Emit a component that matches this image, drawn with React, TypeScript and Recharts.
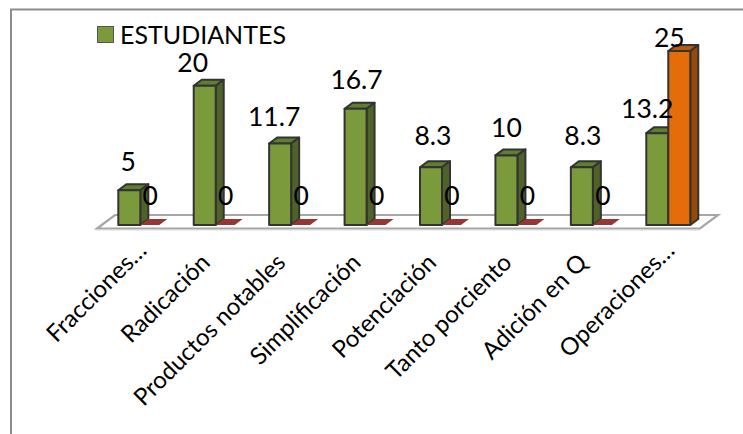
import React from "react";
import { BarChart, Bar, XAxis, YAxis, Legend, LabelList } from "recharts";

const categories = ["Fracciones…", "Radicación", "Productos notables", "Simplificación", "Potenciación", "Tanto porciento", "Adición en Q", "Operaciones…"];
const estudiantes = [5, 20, 11.7, 16.7, 8.3, 10, 8.3, 13.2];
const docentes = [0, 0, 0, 0, 0, 0, 0, 25];
const data = categories.map((c, i) => ({ c, estudiantes: estudiantes[i], docentes: docentes[i] }));

// hand placement of the labels, as in the source chart
const nudgeA = [[-1, -19], [-12, -14], [-6, -18], [1, -20], [2, -22], [0, -18], [1, -22], [-10, -15]];
const nudgeB = [[-1, 0], [-1, 0], [-1, 0], [-1, 0], [-1, 0], [-1, 0], [-1, 0], [-10, -4]];

const FONT = "Lato, Carlito, sans-serif";
const DX = 8;
const DY = 6;

const GREEN = { front: "#7a9a3c", side: "#4f6228", top: "#617d2f" };
const ORANGE = { front: "#e46c0a", side: "#984807", top: "#b85a08" };
const RED = "#953735";

function Bar3D(props: any, colors: any) {
  const { x, y, width, height } = props;
  if (!height) {
    const b = y + height;
    return <polygon points={`${x},${b} ${x + width - 3},${b} ${x + width - 3 + DX},${b - DY} ${x + DX},${b - DY}`} fill={RED} />;
  }
  const sw = { stroke: "#333", strokeWidth: 2, strokeLinejoin: "round" as const };
  return (
    <g>
      <polygon points={`${x},${y} ${x + DX},${y - DY} ${x + width + DX},${y - DY} ${x + width},${y}`} fill={colors.top} {...sw} />
      <polygon points={`${x + width},${y} ${x + width + DX},${y - DY} ${x + width + DX},${y + height - DY} ${x + width},${y + height}`} fill={colors.side} {...sw} />
      <rect x={x} y={y} width={width} height={height} fill={colors.front} {...sw} />
    </g>
  );
}

function Tick(props: any) {
  const { x, y, payload } = props;
  const cut = String(payload.value).endsWith("…");
  const px = x - 4 + (cut ? 12 : 0);
  const py = y + 31 - (cut ? 12 : 0);
  return (
    <text x={px} y={py} textAnchor="end" transform={`rotate(-45 ${px} ${py})`} fontFamily={FONT} fontSize={24} fill="#000">
      {payload.value}
    </text>
  );
}

function makeLabel(nudge: number[][]) {
  return function Lab(props: any) {
    const { x, y, width, index, value } = props;
    const [dx, dy] = nudge[index];
    return (
      <text x={x + width / 2 + dx} y={y + dy + (value === 0 ? -20 : 0)} textAnchor="middle" fontFamily={FONT} fontSize={26.5} fill="#000">
        {value}
      </text>
    );
  };
}

function LegendBox() {
  return (
    <div style={{ display: "flex", alignItems: "center", fontFamily: FONT, fontSize: 25, color: "#000", lineHeight: "28px" }}>
      <span style={{ width: 15, height: 15, background: GREEN.front, border: "1px solid #555", marginRight: 6, display: "inline-block" }} />
      ESTUDIANTES
    </div>
  );
}

export default function App() {
  return (
    <div style={{ position: "absolute", left: 0, top: 0, width: 743, height: 434, background: "#fff", overflow: "hidden" }}>
      <svg width={743} height={434} style={{ position: "absolute", left: 0, top: 0 }}>
        <path d="M11 434 V9.5 H743" fill="none" stroke="#8c8c8c" strokeWidth={2} />
        <path d="M95 230.5 H700" fill="none" stroke="#eeeeee" strokeWidth={1} />
        <polygon points="97,228.5 115,215 718,215 700,228.5" fill="#fff" stroke="#a6a6a6" strokeWidth={2.2} />
      </svg>
      <div style={{ position: "absolute", left: 0, top: 0 }}>
        <BarChart width={743} height={434} data={data} margin={{ top: 51, right: 37.3, bottom: 0, left: 102.3 }} barGap={0} barSize={22} style={{ background: "transparent" }}>
          <YAxis hide domain={[0, 25]} />
          <XAxis dataKey="c" axisLine={false} tickLine={false} interval={0} tick={<Tick />} height={181} />
          <Legend content={<LegendBox />} wrapperStyle={{ left: 97, top: 20, width: 220, bottom: "auto" }} />
          <Bar dataKey="estudiantes" name="ESTUDIANTES" isAnimationActive={false} shape={(p: any) => Bar3D(p, GREEN)}>
            <LabelList dataKey="estudiantes" content={makeLabel(nudgeA)} />
          </Bar>
          <Bar dataKey="docentes" name="DOCENTES" legendType="none" isAnimationActive={false} shape={(p: any) => Bar3D(p, ORANGE)}>
            <LabelList dataKey="docentes" content={makeLabel(nudgeB)} />
          </Bar>
        </BarChart>
      </div>
    </div>
  );
}
